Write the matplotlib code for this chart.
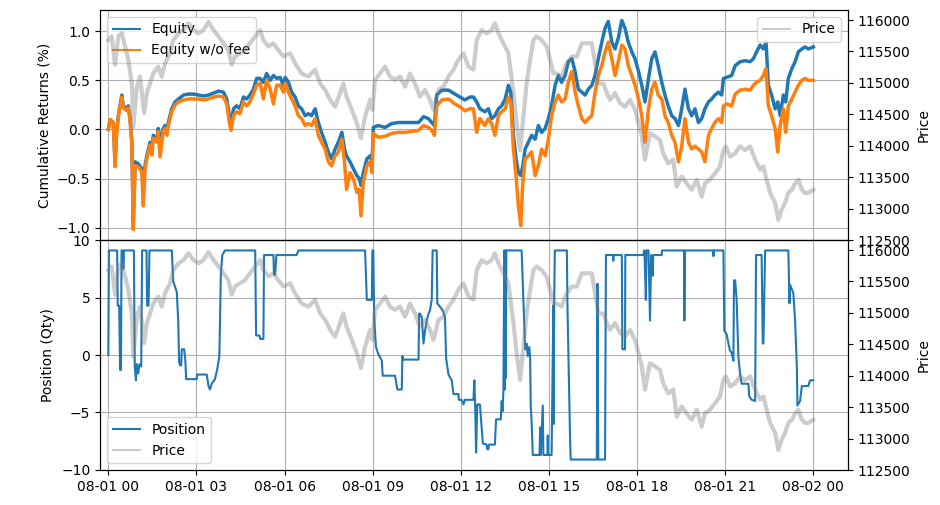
import matplotlib
matplotlib.use('Agg')
import matplotlib.pyplot as plt
import matplotlib.dates as mdates
import pandas as pd

start = pd.Timestamp('2025-08-01 00:00')

# price (hours since 08-01 00:00)
price_hours = [0.00, 0.11, 0.23, 0.34, 0.46, 0.57, 0.68, 0.80, 0.85, 0.97,
               1.08, 1.22, 1.31, 1.42, 1.53, 1.70, 1.82, 1.93, 2.10, 2.21,
               2.39, 2.56, 2.73, 2.90, 3.07, 3.24, 3.41, 3.58, 3.75, 3.92,
               4.09, 4.20, 4.31, 4.48, 4.65, 4.82, 5.00, 5.17, 5.28, 5.45,
               5.62, 5.79, 5.96, 6.19, 6.36, 6.58, 6.81, 7.04, 7.21, 7.38,
               7.55, 7.72, 7.89, 8.00, 8.11, 8.29, 8.46, 8.60, 8.74, 8.91,
               8.99, 9.08, 9.25, 9.42, 9.59, 9.76, 9.93, 10.10, 10.27, 10.44,
               10.61, 10.78, 10.95, 11.07, 11.24, 11.41, 11.58, 11.75, 11.92, 12.09,
               12.26, 12.43, 12.54, 12.71, 12.88, 13.05, 13.16, 13.28, 13.45, 13.62,
               13.79, 13.90, 14.02, 14.13, 14.24, 14.36, 14.47, 14.58, 14.75, 14.92,
               15.04, 15.15, 15.26, 15.43, 15.60, 15.78, 15.95, 16.12, 16.29, 16.46,
               16.57, 16.68, 16.85, 16.97, 17.08, 17.25, 17.42, 17.59, 17.76, 17.93,
               18.05, 18.16, 18.27, 18.44, 18.61, 18.78, 18.89, 19.06, 19.23, 19.35,
               19.52, 19.69, 19.86, 20.03, 20.20, 20.31, 20.48, 20.65, 20.82, 20.94,
               21.02, 21.17, 21.34, 21.50, 21.68, 21.85, 22.02, 22.19, 22.30, 22.41,
               22.53, 22.70, 22.81, 22.92, 23.04, 23.15, 23.27, 23.38, 23.49, 23.61,
               23.72, 23.83, 24.00]
price = [115680, 115740, 115290, 115740, 115790, 115580, 115370, 114990, 114300, 114940,
         115100, 114520, 114840, 114990, 115150, 115260, 115100, 115310, 115470, 115680,
         115790, 115840, 115950, 115840, 115790, 115840, 115970, 115840, 115740, 115630,
         115520, 115290, 115420, 115470, 115520, 115630, 115740, 115840, 115680, 115580,
         115630, 115520, 115420, 115470, 115310, 115150, 115100, 115210, 114990, 114890,
         114730, 114620, 114840, 114990, 114780, 114570, 114360, 114120, 114460, 114730,
         114570, 115050, 115150, 115260, 115100, 115050, 115100, 114940, 115150, 114990,
         114780, 114890, 114730, 114570, 114890, 114940, 115100, 115210, 115370, 115470,
         115260, 115210, 115680, 115840, 115790, 115840, 115950, 115790, 115630, 115470,
         114840, 114360, 113930, 114460, 114990, 115370, 115680, 115740, 115680, 115580,
         115370, 115150, 115150, 115100, 115310, 115420, 115420, 115630, 115630, 115630,
         115310, 114990, 114990, 114840, 114730, 114840, 114680, 114620, 114730, 114570,
         114360, 114150, 113780, 114200, 114150, 114090, 113880, 113720, 113780, 113350,
         113510, 113400, 113300, 113460, 113190, 113400, 113460, 113560, 113670, 113930,
         113990, 113830, 113880, 113990, 113930, 113990, 113780, 113620, 113670, 113460,
         113250, 113090, 112820, 112980, 113090, 113250, 113300, 113400, 113460, 113300,
         113250, 113250, 113300]

# cumulative returns (%)
eq_hours = [0.00, 0.06, 0.17, 0.23, 0.28, 0.34, 0.46, 0.51, 0.63, 0.68,
            0.74, 0.80, 0.85, 0.91, 1.02, 1.14, 1.19, 1.25, 1.31, 1.42,
            1.48, 1.53, 1.65, 1.70, 1.76, 1.87, 1.93, 1.99, 2.04, 2.16,
            2.27, 2.39, 2.56, 2.73, 2.90, 3.07, 3.24, 3.41, 3.58, 3.75,
            3.92, 4.03, 4.12, 4.18, 4.26, 4.37, 4.48, 4.60, 4.71, 4.82,
            4.94, 5.05, 5.17, 5.28, 5.39, 5.51, 5.62, 5.73, 5.85, 5.96,
            6.02, 6.13, 6.24, 6.36, 6.47, 6.58, 6.70, 6.81, 6.92, 7.04,
            7.15, 7.26, 7.38, 7.49, 7.60, 7.72, 7.83, 7.95, 8.04, 8.11,
            8.23, 8.34, 8.46, 8.54, 8.60, 8.68, 8.80, 8.91, 8.98, 9.02,
            9.19, 9.42, 9.65, 9.87, 10.10, 10.33, 10.56, 10.73, 10.90, 11.01,
            11.10, 11.18, 11.35, 11.58, 11.80, 11.97, 12.14, 12.31, 12.43, 12.54,
            12.65, 12.82, 12.94, 13.05, 13.16, 13.28, 13.39, 13.51, 13.62, 13.70,
            13.79, 13.88, 13.96, 14.04, 14.11, 14.19, 14.30, 14.41, 14.53, 14.64,
            14.75, 14.87, 14.98, 15.09, 15.21, 15.32, 15.43, 15.55, 15.66, 15.78,
            15.89, 16.00, 16.12, 16.23, 16.34, 16.46, 16.57, 16.68, 16.80, 16.91,
            17.02, 17.14, 17.25, 17.36, 17.48, 17.59, 17.70, 17.82, 17.93, 18.05,
            18.16, 18.27, 18.39, 18.50, 18.61, 18.72, 18.84, 18.95, 19.06, 19.18,
            19.29, 19.41, 19.52, 19.63, 19.75, 19.86, 19.97, 20.09, 20.20, 20.31,
            20.43, 20.54, 20.65, 20.77, 20.88, 20.94, 21.05, 21.22, 21.34, 21.51,
            21.68, 21.85, 21.96, 22.07, 22.19, 22.30, 22.39, 22.47, 22.58, 22.70,
            22.79, 22.87, 22.98, 23.06, 23.15, 23.27, 23.38, 23.49, 23.61, 23.72,
            23.83, 24.00]
equity = [0.00, 0.10, 0.07, -0.35, -0.03, 0.14, 0.35, 0.24, 0.21, 0.24,
          0.11, -0.13, -0.95, -0.33, -0.35, -0.40, -0.57, -0.37, -0.27, -0.13,
          -0.23, -0.06, -0.10, 0.01, -0.13, 0.01, 0.04, -0.03, 0.07, 0.21,
          0.28, 0.31, 0.35, 0.36, 0.36, 0.35, 0.34, 0.35, 0.37, 0.39,
          0.38, 0.31, 0.14, 0.06, 0.21, 0.24, 0.21, 0.33, 0.31, 0.35,
          0.41, 0.52, 0.52, 0.48, 0.57, 0.50, 0.55, 0.52, 0.53, 0.45,
          0.53, 0.48, 0.38, 0.33, 0.24, 0.21, 0.14, 0.16, 0.14, 0.21,
          0.07, -0.03, -0.13, -0.23, -0.30, -0.20, -0.13, -0.03, -0.20, -0.27,
          -0.33, -0.40, -0.47, -0.50, -0.57, -0.44, -0.30, -0.27, -0.33, 0.02,
          0.04, 0.02, 0.06, 0.07, 0.07, 0.07, 0.07, 0.13, 0.11, 0.07,
          0.04, 0.35, 0.40, 0.40, 0.36, 0.33, 0.30, 0.33, 0.33, 0.28,
          0.21, 0.18, 0.21, 0.11, 0.14, 0.21, 0.24, 0.31, 0.45, 0.38,
          -0.06, -0.30, -0.44, -0.47, -0.37, -0.20, -0.13, -0.06, -0.10, 0.04,
          -0.03, 0.01, 0.11, 0.24, 0.45, 0.55, 0.48, 0.55, 0.69, 0.72,
          0.59, 0.41, 0.38, 0.35, 0.41, 0.45, 0.55, 0.72, 0.89, 1.03,
          1.10, 0.89, 0.82, 0.93, 1.11, 1.03, 0.89, 0.79, 0.72, 0.59,
          0.45, 0.28, 0.52, 0.72, 0.79, 0.65, 0.48, 0.35, 0.24, 0.14,
          0.11, 0.04, 0.21, 0.41, 0.21, 0.14, 0.21, 0.07, 0.11, 0.21,
          0.28, 0.31, 0.35, 0.38, 0.35, 0.52, 0.53, 0.55, 0.65, 0.69,
          0.70, 0.69, 0.72, 0.79, 0.86, 0.82, 0.89, 0.45, 0.35, 0.21,
          0.28, 0.14, 0.35, 0.28, 0.52, 0.62, 0.69, 0.79, 0.82, 0.84,
          0.82, 0.84]
equity_nofee = [0.00, 0.10, 0.06, -0.38, -0.04, 0.13, 0.33, 0.22, 0.19, 0.22,
                0.09, -0.15, -1.02, -0.37, -0.38, -0.43, -0.78, -0.40, -0.30, -0.16,
                -0.26, -0.09, -0.13, -0.02, -0.28, -0.02, 0.01, -0.06, 0.04, 0.18,
                0.25, 0.28, 0.30, 0.31, 0.31, 0.31, 0.30, 0.31, 0.33, 0.34,
                0.33, 0.26, 0.07, -0.01, 0.14, 0.18, 0.16, 0.28, 0.24, 0.28,
                0.36, 0.45, 0.47, 0.31, 0.50, 0.41, 0.26, 0.45, 0.45, 0.38,
                0.47, 0.38, 0.31, 0.24, 0.14, 0.11, 0.04, 0.06, 0.04, 0.11,
                -0.06, -0.13, -0.20, -0.33, -0.37, -0.27, -0.23, -0.10, -0.33, -0.61,
                -0.44, -0.50, -0.64, -0.61, -0.88, -0.54, -0.37, -0.33, -0.44, -0.04,
                -0.08, -0.07, -0.04, -0.03, -0.03, -0.02, -0.01, 0.04, 0.02, -0.01,
                -0.06, 0.24, 0.30, 0.31, 0.26, 0.23, 0.19, 0.21, 0.21, -0.03,
                0.11, 0.04, 0.11, 0.06, -0.06, 0.14, 0.18, 0.21, 0.33, 0.28,
                -0.20, -0.47, -0.78, -0.98, -0.54, -0.30, -0.27, -0.23, -0.47, -0.37,
                -0.20, -0.27, -0.10, 0.14, 0.28, 0.35, 0.28, 0.31, 0.48, 0.59,
                0.38, 0.24, 0.11, 0.07, 0.11, 0.14, 0.38, 0.55, 0.65, 0.79,
                0.89, 0.72, 0.55, 0.69, 0.86, 0.82, 0.65, 0.55, 0.45, 0.31,
                0.14, -0.13, 0.21, 0.41, 0.48, 0.35, 0.31, 0.14, 0.07, -0.06,
                -0.13, -0.33, -0.17, 0.11, -0.13, -0.20, -0.17, -0.20, -0.23, -0.33,
                -0.06, 0.01, 0.07, 0.11, 0.07, 0.24, 0.26, 0.24, 0.36, 0.40,
                0.41, 0.40, 0.45, 0.48, 0.50, 0.55, 0.62, 0.24, 0.14, 0.01,
                -0.23, 0.04, 0.21, -0.03, 0.24, 0.31, 0.38, 0.45, 0.50, 0.52,
                0.50, 0.50]

# position (qty)
pos_hours = [0.00, 0.02, 0.30, 0.32, 0.37, 0.40, 0.43, 0.45, 0.50, 0.51,
             0.53, 0.87, 0.90, 0.94, 0.97, 1.02, 1.06, 1.12, 1.15, 1.30,
             1.32, 1.37, 1.40, 2.16, 2.21, 2.33, 2.38, 2.41, 2.44, 2.48,
             2.50, 2.58, 2.62, 2.65, 3.01, 3.02, 3.35, 3.41, 3.46, 3.52,
             3.63, 3.71, 3.78, 3.83, 3.88, 3.97, 5.00, 5.03, 5.14, 5.17,
             5.28, 5.30, 5.62, 5.64, 5.68, 5.72, 6.41, 6.47, 8.74, 8.80,
             8.97, 8.99, 9.02, 9.05, 9.11, 9.19, 9.31, 9.34, 9.76, 9.84,
             9.99, 10.01, 10.04, 10.56, 10.58, 10.61, 10.67, 10.73, 10.78, 10.84,
             10.90, 10.95, 11.01, 11.04, 11.18, 11.20, 11.29, 11.38, 11.46, 11.50,
             11.58, 11.69, 11.75, 11.92, 11.93, 12.03, 12.09, 12.14, 12.43, 12.46,
             12.49, 12.52, 12.56, 12.65, 12.75, 12.88, 12.90, 12.94, 12.96, 13.16,
             13.20, 13.36, 13.39, 13.42, 13.45, 13.48, 13.50, 13.52, 13.53, 13.55,
             14.07, 14.19, 14.24, 14.28, 14.33, 14.36, 14.38, 14.41, 14.45, 14.68,
             14.70, 14.72, 14.79, 14.81, 14.95, 14.96, 14.97, 15.09, 15.15, 15.16,
             15.18, 15.20, 15.61, 15.63, 15.72, 15.74, 16.63, 16.65, 16.68, 16.91,
             16.94, 17.18, 17.19, 17.20, 17.48, 17.50, 17.59, 17.60, 18.21, 18.25,
             18.30, 18.32, 18.39, 18.44, 18.48, 18.53, 18.55, 18.84, 18.85, 19.60,
             19.61, 19.63, 20.59, 20.60, 20.61, 20.94, 20.97, 21.05, 21.11, 21.16,
             21.22, 21.28, 21.30, 21.34, 21.39, 21.45, 21.51, 21.56, 21.79, 21.82,
             21.90, 22.02, 22.05, 22.24, 22.28, 22.30, 22.36, 23.15, 23.19, 23.21,
             23.32, 23.38, 23.44, 23.46, 23.55, 23.61, 23.83, 23.89, 24.00]
position = [0.0, 9.1, 9.1, 4.3, 4.3, -1.3, -1.3, 9.1, 9.1, 7.5,
            9.1, 9.1, -1.0, -2.2, -0.8, -1.6, -0.8, -1.0, 9.1, 9.1,
            4.3, 4.3, 9.1, 9.1, 6.4, 5.5, 2.9, -0.6, -0.9, -0.9,
            0.5, 0.5, -0.4, -2.1, -2.1, -1.7, -1.7, -2.7, -3.0, -2.5,
            -2.1, -1.2, -0.1, 7.0, 8.7, 9.1, 9.1, 1.7, 1.7, 1.4,
            1.4, 8.7, 8.7, 7.0, 7.0, 8.7, 8.7, 9.1, 9.1, 4.8,
            4.8, 9.1, 9.1, 3.3, 0.7, 0.1, -0.5, -1.8, -1.8, -3.0,
            -3.0, -0.1, -0.4, -0.4, 3.6, 3.6, 3.3, 1.0, 2.1, 3.0,
            3.6, 3.9, 4.8, 9.1, 9.1, 4.5, 4.2, 3.9, 3.3, -0.3,
            -1.7, -2.2, -3.4, -3.4, -3.9, -3.9, -4.3, -3.9, -3.9, -2.2,
            -4.6, -8.5, -4.3, -4.3, -7.7, -7.8, -8.2, -8.2, -7.8, -7.8,
            -5.6, -5.6, -4.0, -4.9, -3.1, 9.1, -3.0, 9.1, -2.0, 9.1,
            9.1, 0.5, 1.0, -0.1, 0.7, -0.2, -4.4, -5.8, -8.7, -8.7,
            -6.3, -8.7, -4.4, -8.7, -8.7, -7.0, -8.7, -8.7, 4.3, -6.0,
            5.0, 9.1, 9.1, 4.3, -7.4, -9.1, -9.1, 6.2, -9.1, -9.1,
            8.7, 8.7, 8.2, 8.7, 8.7, 0.5, 0.5, 8.7, 8.7, 9.1,
            4.8, 9.1, 9.1, 3.0, 8.7, 6.9, 8.7, 8.7, 9.1, 9.1,
            3.0, 9.1, 9.1, 8.6, 9.1, 9.1, 2.1, 1.8, 1.0, 0.4,
            0.2, -0.5, 6.5, 6.5, 4.8, -0.2, -1.7, -2.5, -2.5, -3.6,
            -3.9, -4.0, 8.7, 8.7, 1.0, 1.0, 9.1, 9.1, 4.5, 6.1,
            5.4, 3.0, -1.1, -4.4, -4.0, -2.7, -2.7, -2.2, -2.2]


def to_time(hours):
    return start + pd.to_timedelta(hours, unit='h')


t_price = to_time(price_hours)
t_eq = to_time(eq_hours)
t_pos = to_time(pos_hours)

fig = plt.figure(figsize=(9.4, 5.05), dpi=100)
ax1, ax3 = fig.subplots(2, 1, sharex=True)
fig.subplots_adjust(left=0.1064, right=0.9021, top=0.9802, bottom=0.0693, hspace=0)

# top: cumulative returns + price
ax1.plot(t_eq, equity, color='#1f77b4', lw=2.5, label='Equity')
ax1.plot(t_eq, equity_nofee, color='#ff7f0e', lw=2.5, label='Equity w/o fee')
ax1.set_ylabel('Cumulative Returns (%)')
ax1.grid(True)
leg1 = ax1.legend(loc='upper left')
for line in leg1.get_lines():
    line.set_linewidth(1.5)

ax2 = ax1.twinx()
ax2.plot(t_price, price, color='gray', alpha=0.4, lw=3.0, label='Price')
ax2.set_ylim(112500, 116160)
ax2.set_ylabel('Price')
leg2 = ax2.legend(loc='upper right')
for line in leg2.get_lines():
    line.set_linewidth(1.5)

# bottom: position + price
pos_line, = ax3.plot(t_pos, position, color='#1f77b4', lw=1.5, label='Position')
ax3.set_ylabel('Position (Qty)')
ax3.grid(True)

ax4 = ax3.twinx()
price_line, = ax4.plot(t_price, price, color='gray', alpha=0.4, lw=3.0, label='Price')
ax4.set_ylim(112500, 116160)
ax4.set_ylabel('Price')
leg3 = ax4.legend([pos_line, price_line], ['Position', 'Price'], loc='lower left')
for line in leg3.get_lines():
    line.set_linewidth(1.5)

ax3.xaxis.set_major_locator(mdates.HourLocator(byhour=range(0, 24, 3)))
ax3.xaxis.set_major_formatter(mdates.DateFormatter('%m-%d %H'))
ax3.set_xlim(to_time(-0.283), to_time(25.18))

fig.savefig('out.png', dpi=100)
